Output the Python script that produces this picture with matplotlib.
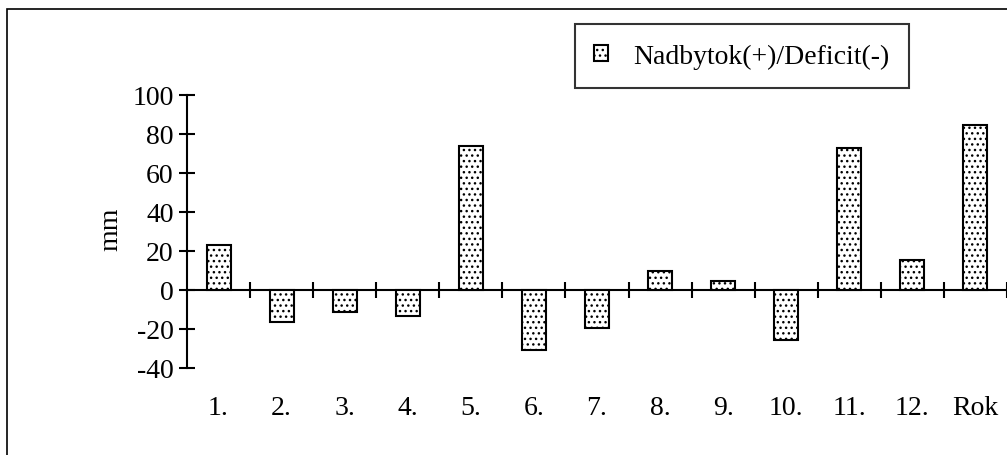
import numpy as np
import matplotlib.pyplot as plt
from matplotlib.patches import Rectangle

# Data
kategorie = ['1.', '2.', '3.', '4.', '5.', '6.', '7.', '8.', '9.', '10.', '11.', '12.', 'Rok']
bilance = [23, -16.6, -11.4, -13.6, 73.5, -30.9, -19.8, 9.5, 4.4, -25.8, 72.5, 15.3, 84.5]
y_ticks = [-40, -20, 0, 20, 40, 60, 80, 100]

plt.rcParams['font.family'] = ['Liberation Serif', 'DejaVu Serif']
plt.rcParams['hatch.color'] = '#666666'
plt.rcParams['hatch.linewidth'] = 1.0
FS = 20

fig = plt.figure(figsize=(10.07, 4.56), dpi=100)

# vnější rámeček grafu
fig.patches.append(Rectangle((7 / 1007, -0.2), 1.2, 0.2 + (456 - 10) / 456,
                             transform=fig.transFigure, fill=False,
                             edgecolor='black', linewidth=1.2))

ax = fig.add_axes([187 / 1007, (456 - 368.7) / 456, 1 - 187 / 1007, 273 / 456])

x = np.arange(len(kategorie))
ax.bar(x, bilance, width=0.38, color='white', edgecolor='black',
       linewidth=1.5, hatch='...', label='Nadbytok(+)/Deficit(-)', zorder=3)

ax.set_xlim(-0.5, len(kategorie) - 0.5)
ax.set_ylim(-40, 100)
ax.set_yticks(y_ticks)
ax.set_yticklabels([str(v) for v in y_ticks], fontsize=FS)
ax.set_ylabel('mm', fontsize=FS)
ax.yaxis.set_label_coords(-0.078, 0.51)

# osa x prochází nulou, značky mezi kategoriemi
ax.spines['bottom'].set_position(('data', 0))
ax.spines['top'].set_visible(False)
ax.spines['right'].set_visible(False)
for s in ['left', 'bottom']:
    ax.spines[s].set_linewidth(1.5)
ax.set_xticks(list(x[:-1] + 0.5) + [len(kategorie) - 0.5])
ax.set_xticklabels([])
ax.tick_params(axis='both', direction='inout', length=11, width=1.5)
ax.tick_params(axis='y', pad=4)

# popisky kategorií pod grafem
for xi, lab in zip(x, kategorie):
    ax.text(xi, -0.145, lab, transform=ax.get_xaxis_transform(),
            ha='center', va='center', fontsize=FS)

leg = fig.legend(loc='center', bbox_to_anchor=(742 / 1007, 1 - 57 / 456),
                 fontsize=FS, frameon=True, fancybox=False, borderpad=0.7,
                 handlelength=0.5, handleheight=0.5, handletextpad=0.9,
                 borderaxespad=0)
leg.get_frame().set_edgecolor('black')
leg.get_frame().set_linewidth(1.5)

fig.savefig('out.png', dpi=100)
